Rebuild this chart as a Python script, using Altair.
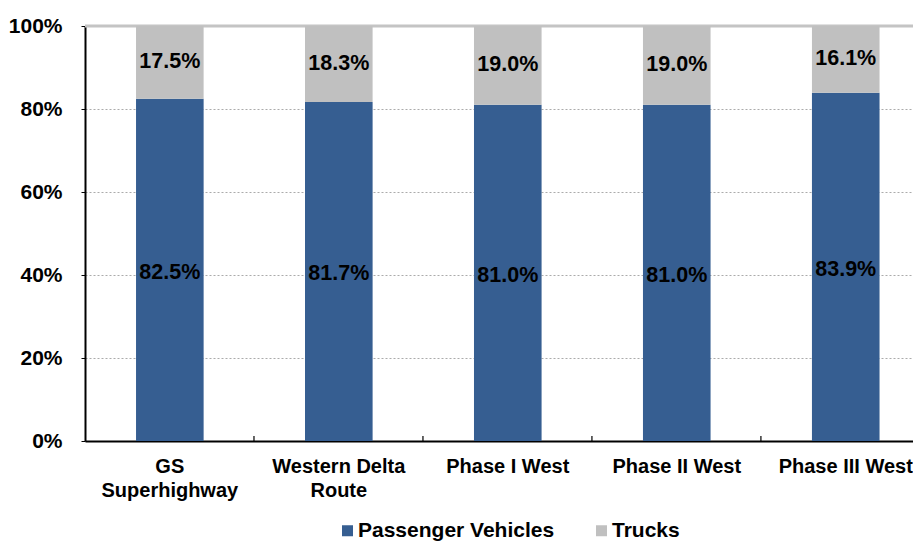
import altair as alt
import pandas as pd

categories = ["GS\nSuperhighway", "Western Delta\nRoute", "Phase I West", "Phase II West", "Phase III West"]
series = ["Passenger Vehicles", "Trucks"]
passenger = [0.825, 0.817, 0.810, 0.810, 0.839]
trucks = [0.175, 0.183, 0.190, 0.190, 0.161]
y_ticks = [0, 0.2, 0.4, 0.6, 0.8, 1.0]
colors = ["#365E91", "#C0C0C0"]
boundaries = [1, 2, 3, 4]

rows = []
for i, c in enumerate(categories):
    start = 0.0
    for j, (s, vals) in enumerate(zip(series, [passenger, trucks])):
        v = vals[i]
        rows.append({"cat": c, "series": s, "value": v, "ord": j, "mid": start + v / 2})
        start += v
df = pd.DataFrame(rows)

FONT = "Liberation Sans"
P_IN, P_OUT = 0.6, 0.25
x_scale = alt.Scale(paddingInner=P_IN, paddingOuter=P_OUT, align=0.604)
n_steps = len(categories) - P_IN + 2 * P_OUT

x_enc = alt.X(
    "cat:N",
    sort=categories,
    scale=x_scale,
    axis=alt.Axis(
        title=None,
        labelAngle=0,
        labelExpr="split(datum.label, '\\n')",
        labelFont=FONT,
        labelFontSize=20,
        labelFontWeight="bold",
        labelColor="black",
        labelPadding=15,
        labelLineHeight=24,
        ticks=False,
        domainColor="black",
        domainWidth=2,
        grid=False,
    ),
)

y_scale = alt.Scale(domain=[0, 1], nice=False)

bars = alt.Chart(df).mark_bar(size=67.6).encode(
    x=x_enc,
    y=alt.Y(
        "value:Q",
        stack="zero",
        scale=y_scale,
        axis=alt.Axis(
            title=None,
            values=y_ticks,
            format=".0%",
            labelFont=FONT,
            labelFontSize=21,
            labelFontWeight="bold",
            labelColor="black",
            labelPadding=19,
            tickSize=4,
            tickColor="black",
            domainColor="black",
            domainWidth=2,
            grid=True,
            gridColor="#ABABAB",
            gridDash=[2, 2],
            gridWidth=1,
        ),
    ),
    color=alt.Color(
        "series:N",
        scale=alt.Scale(domain=series, range=colors),
        legend=alt.Legend(
            title=None,
            orient="none",
            direction="horizontal",
            legendX=252,
            legendY=494,
            symbolType="square",
            symbolSize=121,
            symbolStrokeWidth=0,
            symbolOpacity=1,
            labelFont=FONT,
            labelFontSize=21,
            labelFontWeight="bold",
            labelColor="black",
            labelOffset=0,
            labelLimit=0,
            columnPadding=36,
        ),
    ),
    order=alt.Order("ord:Q"),
)

label_pass = alt.Chart(df).transform_filter(
    alt.datum.series == series[0]
).mark_text(
    font=FONT, fontSize=21.5, fontWeight="bold", color="black", baseline="middle", dy=3
).encode(
    x=alt.X("cat:N", sort=categories),
    y=alt.Y("mid:Q", scale=y_scale),
    text=alt.Text("value:Q", format=".1%"),
)

label_truck = alt.Chart(df).transform_filter(
    alt.datum.series == series[1]
).mark_text(
    font=FONT, fontSize=21.5, fontWeight="bold", color="black", baseline="middle"
).encode(
    x=alt.X("cat:N", sort=categories),
    y=alt.Y("mid:Q", scale=y_scale),
    text=alt.Text("value:Q", format=".1%"),
)

top_line = alt.Chart(pd.DataFrame({"v": [1.0]})).mark_rule(color="#C4C4C4", strokeWidth=3).encode(
    y=alt.Y("v:Q", scale=y_scale)
)

main = alt.layer(top_line, bars, label_pass, label_truck)

tick_df = pd.DataFrame({"b": boundaries, "y0": [0.0] * 4, "y1": [0.012] * 4})
ticks = alt.Chart(tick_df).mark_rule(color="black", strokeWidth=1.2).encode(
    x=alt.X("b:Q", scale=alt.Scale(domain=[0, n_steps], nice=False, zero=False), axis=None),
    y=alt.Y("y0:Q", scale=y_scale),
    y2="y1:Q",
)

chart = (
    alt.layer(main, ticks)
    .resolve_scale(x="independent")
    .properties(
        width=828,
        height=415,
        autosize=alt.AutoSizeParams(type="none"),
        padding={"left": 77, "top": 18, "right": 0, "bottom": 100},
        background="white",
    )
    .configure_view(stroke=None)
)

chart.save("out.html", embed_options={"renderer": "svg", "actions": False})
